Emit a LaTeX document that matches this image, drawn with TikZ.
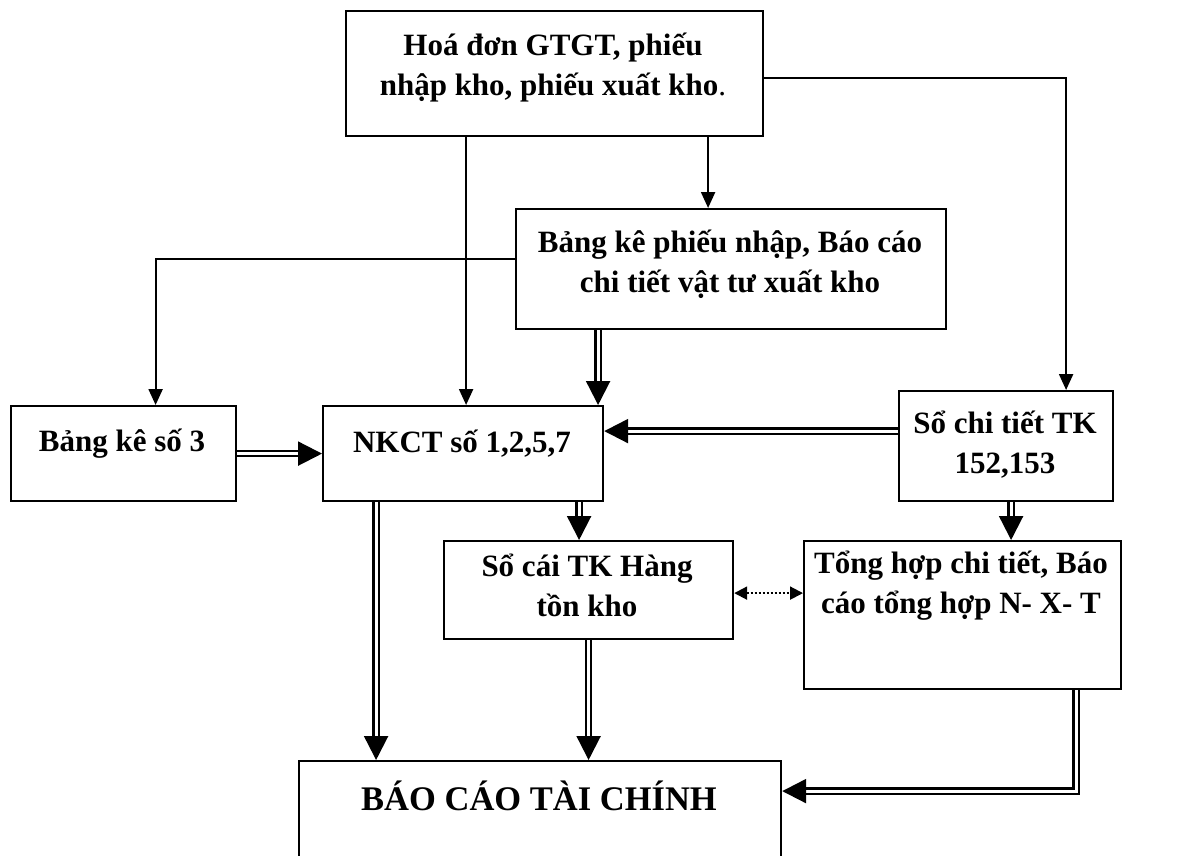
\documentclass[tikz,border=0pt]{standalone}
\usepackage{fontspec}
\setmainfont{Liberation Serif}
\usetikzlibrary{arrows.meta}
\begin{document}
\begin{tikzpicture}[x=1pt,y=-1pt,
  box/.style={draw, line width=2.2pt, rectangle, inner sep=0pt, anchor=north west},
  txt/.style={font=\bfseries\fontsize{31}{40}\selectfont, align=center, inner sep=0pt},
  bigtxt/.style={font=\bfseries\fontsize{34.5}{42}\selectfont, align=center, inner sep=0pt},
  plainarrow/.style={line width=2.2pt, -{Triangle[length=16pt,width=14pt]}},
  dblarrow/.style={double, double distance=3pt, line width=2.2pt, -{Triangle[length=24pt,width=24pt]}},
  dotarrow/.style={line width=2pt, dotted, {Triangle[length=13pt,width=13pt]}-{Triangle[length=13pt,width=13pt]}}
]
\useasboundingbox (0,0) rectangle (1189,855);

% boxes
\node[box, minimum width=417pt, minimum height=125pt] (top) at (345,10) {};
\node[box, minimum width=430pt, minimum height=120pt] (b2) at (515,208) {};
\node[box, minimum width=225pt, minimum height=95pt] (bk3) at (10,405) {};
\node[box, minimum width=280pt, minimum height=95pt] (nkct) at (322,405) {};
\node[box, minimum width=214pt, minimum height=110pt] (sct) at (898,390) {};
\node[box, minimum width=289pt, minimum height=98pt] (sc) at (443,540) {};
\node[box, minimum width=317pt, minimum height=148pt] (th) at (803,540) {};
\node[box, minimum width=482pt, minimum height=110pt] (bctc) at (298,760) {};

% texts
\node[txt] (t1) at (553,68) {Hoá đơn GTGT, phiếu\\nhập kho, phiếu xuất kho{\mdseries .}};
\node[txt] (t2) at (730,264) {Bảng kê phiếu nhập, Báo cáo\\chi tiết vật tư xuất kho};
\node[txt] (t3) at (122,444) {Bảng kê số 3};
\node[txt] (t4) at (462,444) {NKCT số 1,2,5,7};
\node[txt] (t5) at (1005,445) {Sổ chi tiết TK\\152,153};
\node[txt] (t6) at (587,585) {Sổ cái TK Hàng\\tồn kho};
\node[txt] (t7) at (961,586) {Tổng hợp chi tiết, Báo\\cáo tổng hợp N- X- T};
\node[bigtxt] (t8) at (539,796) {BÁO CÁO TÀI CHÍNH};

% single connectors
\draw[plainarrow] ([yshift=-4.5pt]top.east) -| ([xshift=60pt]sct.north);
\draw[plainarrow] ([xshift=3pt]nkct.north |- top.south) -- ([xshift=3pt]nkct.north);
\draw[plainarrow] ([xshift=-23pt]b2.north |- top.south) -- ([xshift=-23pt]b2.north);
\draw[plainarrow] ([yshift=10pt]b2.west) -| ([xshift=32pt]bk3.north);

% double connectors
\draw[dblarrow] ([xshift=135pt]nkct.north |- b2.south) -- ([xshift=135pt]nkct.north);
\draw[dblarrow] (bk3.east) -- (bk3.east -| nkct.west);
\draw[dblarrow] ([yshift=15pt]sct.west) -- ([yshift=15pt]sct.west -| nkct.east);
\draw[dblarrow] ([xshift=-87pt]nkct.south) -- ([xshift=-87pt]nkct.south |- bctc.north);
\draw[dblarrow] ([xshift=116pt]nkct.south) -- ([xshift=116pt]nkct.south |- sc.north);
\draw[dblarrow] ([xshift=5pt]sct.south) -- ([xshift=5pt]sct.south |- th.north);
\draw[dblarrow] (sc.south) -- (sc.south |- bctc.north);
\draw[dblarrow] ([xshift=113.5pt]th.south) |- ([yshift=25pt]bctc.east);

% dotted
\draw[dotarrow] ([yshift=-3pt]sc.east) -- ([yshift=-3pt]sc.east -| th.west);
\end{tikzpicture}
\end{document}
